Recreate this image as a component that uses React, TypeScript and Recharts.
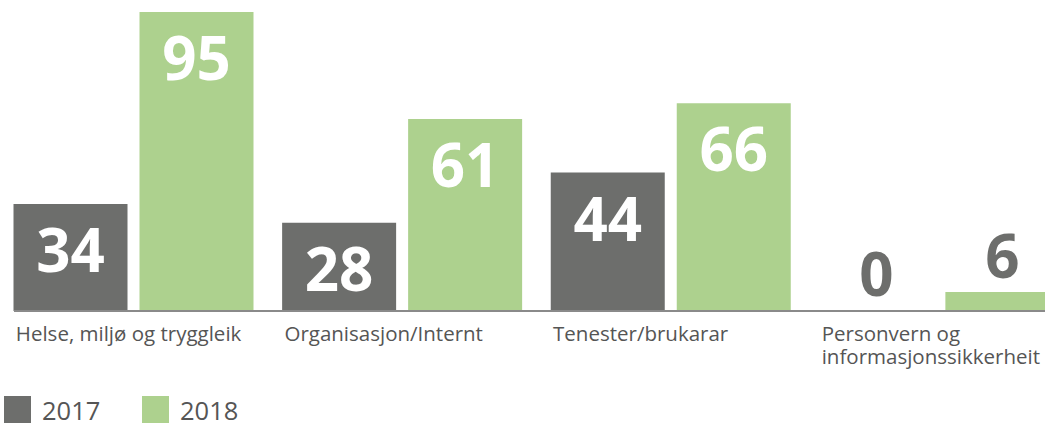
import { Bar, BarChart, LabelList, Legend, XAxis, YAxis } from 'recharts';

const categories = [
  'Helse, miljø og tryggleik',
  'Organisasjon/Internt',
  'Tenester/brukarar',
  'Personvern og\ninformasjonssikkerheit',
];
const values2017 = [34, 28, 44, 0];
const values2018 = [95, 61, 66, 6];
const seriesNames = ['2017', '2018'];

const GREY = '#6d6e6c';
const GREEN = '#add18e';
const TEXT = '#555555';
const FONT = "'Open Sans', sans-serif";

const data = categories.map((name, i) => ({
  name,
  y2017: values2017[i],
  y2018: values2018[i],
}));

// big white number inside tall bars, grey number above the short ones
function ValueLabel(props: any) {
  const { x, y, width, value } = props;
  const inside = value >= 20;
  const cx = x + width / 2;
  const cy = inside ? y + 47 : y - 35;
  return (
    <text
      x={cx}
      y={cy + 21}
      textAnchor="middle"
      fill={inside ? '#ffffff' : GREY}
      fontFamily={FONT}
      fontWeight={700}
      fontSize={60}
    >
      {value}
    </text>
  );
}

function CategoryTick(props: any) {
  const { x, y, payload } = props;
  const lines = String(payload.value).split('\n');
  return (
    <text x={x - 118} y={y + 30} fill={TEXT} fontFamily={FONT} fontSize={20.5}>
      {lines.map((l, i) => (
        <tspan key={i} x={x - 118} dy={i === 0 ? 0 : 23}>
          {l}
        </tspan>
      ))}
    </text>
  );
}

function LegendContent() {
  const colors = [GREY, GREEN];
  return (
    <div style={{ display: 'flex' }}>
      {seriesNames.map((s, i) => (
        <div key={s} style={{ display: 'flex', alignItems: 'flex-start', width: 138 }}>
          <div style={{ width: 27, height: 27, background: colors[i] }} />
          <span
            style={{
              marginLeft: 11,
              fontFamily: FONT,
              fontSize: 25.5,
              lineHeight: '27px',
              paddingTop: 1,
              color: TEXT,
            }}
          >
            {s}
          </span>
        </div>
      ))}
    </div>
  );
}

export default function App() {
  return (
    <div
      style={{
        position: 'fixed',
        left: 0,
        top: 0,
        width: 1045,
        height: 423,
        overflow: 'hidden',
        background: '#fff',
      }}
    >
      <BarChart
        width={1074}
        height={423}
        data={data}
        margin={{ top: 12, right: 0, bottom: 52, left: 14 }}
        barSize={114}
        barGap={12}
      >
        <YAxis hide domain={[0, 95]} />
        <Legend
          layout="horizontal"
          verticalAlign="middle"
          align="center"
          wrapperStyle={{ top: 396, left: 4, width: 400 }}
          content={<LegendContent />}
        />
        <Bar
          dataKey="y2017"
          name={seriesNames[0]}
          fill={GREY}
          minPointSize={1}
          isAnimationActive={false}
        >
          <LabelList dataKey="y2017" content={<ValueLabel />} />
        </Bar>
        <Bar dataKey="y2018" name={seriesNames[1]} fill={GREEN} isAnimationActive={false}>
          <LabelList dataKey="y2018" content={<ValueLabel />} />
        </Bar>
        <XAxis
          dataKey="name"
          height={60}
          padding={{ left: -14.5, right: 0 }}
          axisLine={{ stroke: '#8a8a8a', strokeWidth: 2 }}
          tickLine={false}
          tickSize={0}
          tickMargin={0}
          interval={0}
          tick={<CategoryTick />}
        />
      </BarChart>
    </div>
  );
}
